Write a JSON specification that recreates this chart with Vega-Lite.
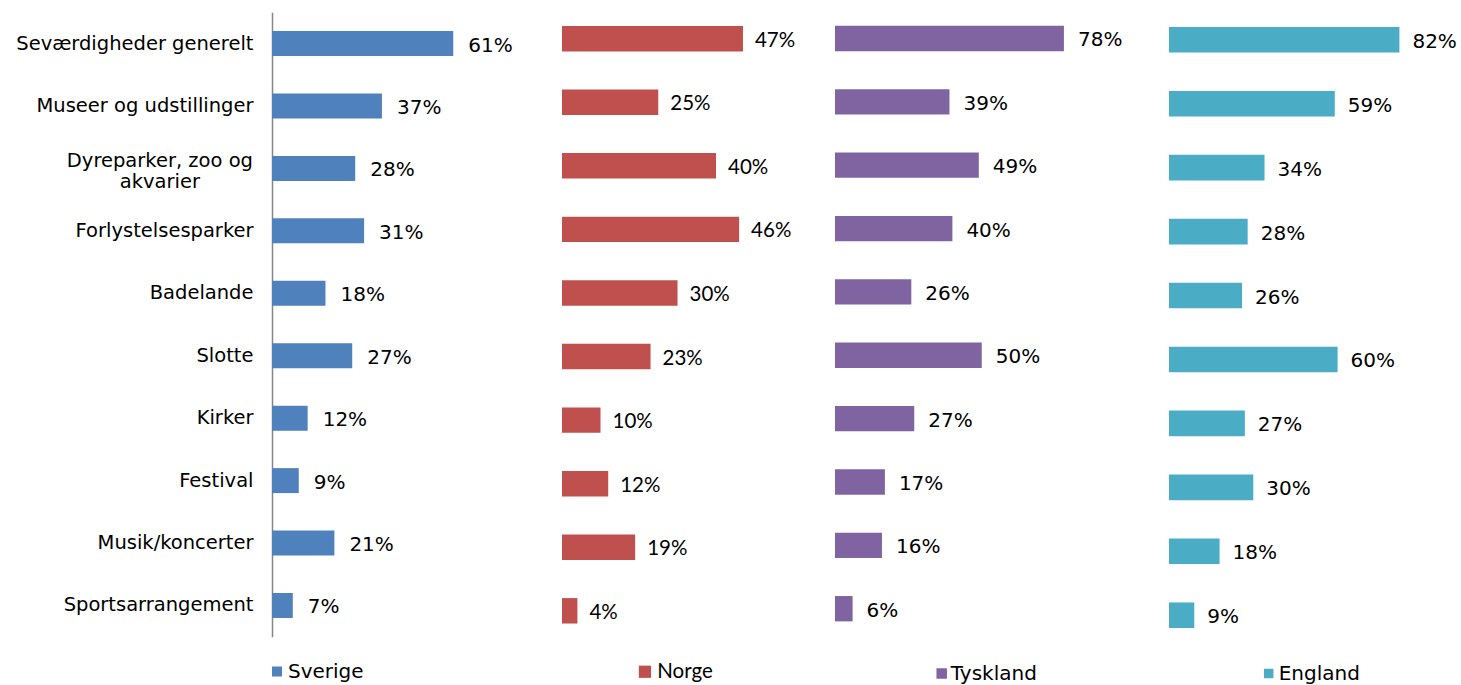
{
  "$schema": "https://vega.github.io/schema/vega-lite/v6.json",
  "padding": {"left": 15, "top": 5, "right": 0, "bottom": 0},
  "autosize": {"type": "pad"},
  "bounds": "flush",
  "spacing": 0,
  "background": "white",
  "config": {"view": {"stroke": null}, "font": "DejaVu Sans"},
  "data": {"values": [
    {"country": "Sverige", "category": "Seværdigheder generelt", "value": 0.61},
    {"country": "Sverige", "category": "Museer og udstillinger", "value": 0.37},
    {"country": "Sverige", "category": "Dyreparker, zoo og akvarier", "value": 0.28},
    {"country": "Sverige", "category": "Forlystelsesparker", "value": 0.31},
    {"country": "Sverige", "category": "Badelande", "value": 0.18},
    {"country": "Sverige", "category": "Slotte", "value": 0.27},
    {"country": "Sverige", "category": "Kirker", "value": 0.12},
    {"country": "Sverige", "category": "Festival", "value": 0.09},
    {"country": "Sverige", "category": "Musik/koncerter", "value": 0.21},
    {"country": "Sverige", "category": "Sportsarrangement", "value": 0.07},
    {"country": "Norge", "category": "Seværdigheder generelt", "value": 0.47},
    {"country": "Norge", "category": "Museer og udstillinger", "value": 0.25},
    {"country": "Norge", "category": "Dyreparker, zoo og akvarier", "value": 0.40},
    {"country": "Norge", "category": "Forlystelsesparker", "value": 0.46},
    {"country": "Norge", "category": "Badelande", "value": 0.30},
    {"country": "Norge", "category": "Slotte", "value": 0.23},
    {"country": "Norge", "category": "Kirker", "value": 0.10},
    {"country": "Norge", "category": "Festival", "value": 0.12},
    {"country": "Norge", "category": "Musik/koncerter", "value": 0.19},
    {"country": "Norge", "category": "Sportsarrangement", "value": 0.04},
    {"country": "Tyskland", "category": "Seværdigheder generelt", "value": 0.78},
    {"country": "Tyskland", "category": "Museer og udstillinger", "value": 0.39},
    {"country": "Tyskland", "category": "Dyreparker, zoo og akvarier", "value": 0.49},
    {"country": "Tyskland", "category": "Forlystelsesparker", "value": 0.40},
    {"country": "Tyskland", "category": "Badelande", "value": 0.26},
    {"country": "Tyskland", "category": "Slotte", "value": 0.50},
    {"country": "Tyskland", "category": "Kirker", "value": 0.27},
    {"country": "Tyskland", "category": "Festival", "value": 0.17},
    {"country": "Tyskland", "category": "Musik/koncerter", "value": 0.16},
    {"country": "Tyskland", "category": "Sportsarrangement", "value": 0.06},
    {"country": "England", "category": "Seværdigheder generelt", "value": 0.82},
    {"country": "England", "category": "Museer og udstillinger", "value": 0.59},
    {"country": "England", "category": "Dyreparker, zoo og akvarier", "value": 0.34},
    {"country": "England", "category": "Forlystelsesparker", "value": 0.28},
    {"country": "England", "category": "Badelande", "value": 0.26},
    {"country": "England", "category": "Slotte", "value": 0.60},
    {"country": "England", "category": "Kirker", "value": 0.27},
    {"country": "England", "category": "Festival", "value": 0.30},
    {"country": "England", "category": "Musik/koncerter", "value": 0.18},
    {"country": "England", "category": "Sportsarrangement", "value": 0.09}
  ]},
  "resolve": {"scale": {"x": "independent", "y": "independent", "color": "independent"}, "legend": {"color": "independent"}, "axis": {"y": "independent"}},
  "hconcat": [
    {
      "width": 290, "height": 645,
      "transform": [{"filter": "datum.country === 'Sverige'"}],
      "encoding": {
        "y": {"field": "category", "type": "nominal",
              "sort": ["Seværdigheder generelt","Museer og udstillinger","Dyreparker, zoo og akvarier","Forlystelsesparker","Badelande","Slotte","Kirker","Festival","Musik/koncerter","Sportsarrangement"],
              "scale": {"range": [7.3, 631.7], "paddingInner": 0.6, "paddingOuter": 0.3},
              "axis": {"title": null, "ticks": false, "domainColor": "#868686", "domainWidth": 1.5,
                       "labelFont": "DejaVu Sans", "labelFontSize": 19.5, "labelColor": "#000000",
                       "labelLimit": 400, "labelLineHeight": 21,
                       "labelAlign": {"condition": {"test": "datum.value == 'Dyreparker, zoo og akvarier'", "value": "center"}, "value": "right"},
                       "labelPadding": {"condition": {"test": "datum.value == 'Dyreparker, zoo og akvarier'", "value": 112.6}, "value": 19},
                       "labelOffset": {"condition": {"test": "datum.value == 'Dyreparker, zoo og akvarier'", "value": -7}, "value": 0},
                       "labelExpr": "datum.value == 'Dyreparker, zoo og akvarier' ? ['Dyreparker, zoo og', 'akvarier'] : datum.value"}},
        "x": {"field": "value", "type": "quantitative", "scale": {"domain": [0, 0.976], "nice": false}, "axis": null}
      },
      "layer": [
        {"mark": {"type": "bar"},
         "encoding": {"color": {"field": "country", "type": "nominal", "scale": {"range": ["#4F81BD"]},
           "legend": {"title": null, "orient": "none", "legendX": -5, "legendY": 656.5, "symbolType": "square", "symbolSize": 100, "symbolStrokeWidth": 0, "labelFont": "DejaVu Sans", "labelFontSize": 20, "labelColor": "#000000", "labelOffset": 1, "padding": 0}}}},
        {"mark": {"type": "text", "align": "left", "baseline": "middle", "dx": 15, "dy": 2, "font": "DejaVu Sans", "fontSize": 20, "color": "#000000"},
         "encoding": {"text": {"field": "value", "type": "quantitative", "format": ".0%"}}}
      ]
    },
    {
      "width": 273, "height": 645,
      "transform": [{"filter": "datum.country === 'Norge'"}],
      "encoding": {
        "y": {"field": "category", "type": "nominal",
              "sort": ["Seværdigheder generelt","Museer og udstillinger","Dyreparker, zoo og akvarier","Forlystelsesparker","Badelande","Slotte","Kirker","Festival","Musik/koncerter","Sportsarrangement"],
              "scale": {"range": [1.9, 637.6], "paddingInner": 0.6, "paddingOuter": 0.3}, "axis": null},
        "x": {"field": "value", "type": "quantitative", "scale": {"domain": [0, 0.709], "nice": false}, "axis": null}
      },
      "layer": [
        {"mark": {"type": "bar"},
         "encoding": {"color": {"field": "country", "type": "nominal", "scale": {"range": ["#C0504D"]},
           "legend": {"title": null, "orient": "none", "legendX": 72.7, "legendY": 656.5, "symbolType": "square", "symbolSize": 150, "symbolStrokeWidth": 0, "labelFont": "Lato", "labelFontSize": 20.5, "labelColor": "#000000", "labelOffset": 2, "padding": 0}}}},
        {"mark": {"type": "text", "align": "left", "baseline": "middle", "dx": 12, "dy": 2, "font": "Lato", "fontSize": 20.5, "color": "#000000"},
         "encoding": {"text": {"field": "value", "type": "quantitative", "format": ".0%"}}}
      ]
    },
    {
      "width": 334, "height": 645,
      "transform": [{"filter": "datum.country === 'Tyskland'"}],
      "encoding": {
        "y": {"field": "category", "type": "nominal",
              "sort": ["Seværdigheder generelt","Museer og udstillinger","Dyreparker, zoo og akvarier","Forlystelsesparker","Badelande","Slotte","Kirker","Festival","Musik/koncerter","Sportsarrangement"],
              "scale": {"range": [1.8, 635.4], "paddingInner": 0.6, "paddingOuter": 0.3}, "axis": null},
        "x": {"field": "value", "type": "quantitative", "scale": {"domain": [0, 1.138], "nice": false}, "axis": null}
      },
      "layer": [
        {"mark": {"type": "bar"},
         "encoding": {"color": {"field": "country", "type": "nominal", "scale": {"range": ["#8064A2"]},
           "legend": {"title": null, "orient": "none", "legendX": 96.7, "legendY": 658.5, "symbolType": "square", "symbolSize": 110, "symbolStrokeWidth": 0, "labelFont": "DejaVu Sans", "labelFontSize": 20, "labelColor": "#000000", "labelOffset": -1, "padding": 0}}}},
        {"mark": {"type": "text", "align": "left", "baseline": "middle", "dx": 14, "dy": 2, "font": "DejaVu Sans", "fontSize": 20, "color": "#000000"},
         "encoding": {"text": {"field": "value", "type": "quantitative", "format": ".0%"}}}
      ]
    },
    {
      "width": 250, "height": 645,
      "transform": [{"filter": "datum.country === 'England'"}],
      "encoding": {
        "y": {"field": "category", "type": "nominal",
              "sort": ["Seværdigheder generelt","Museer og udstillinger","Dyreparker, zoo og akvarier","Forlystelsesparker","Badelande","Slotte","Kirker","Festival","Musik/koncerter","Sportsarrangement"],
              "scale": {"range": [2.8, 642.2], "paddingInner": 0.6, "paddingOuter": 0.3}, "axis": null},
        "x": {"field": "value", "type": "quantitative", "scale": {"domain": [0, 0.8897], "nice": false}, "axis": null}
      },
      "layer": [
        {"mark": {"type": "bar"},
         "encoding": {"color": {"field": "country", "type": "nominal", "scale": {"range": ["#4BACC6"]},
           "legend": {"title": null, "orient": "none", "legendX": 89.7, "legendY": 658.5, "symbolType": "square", "symbolSize": 90, "symbolStrokeWidth": 0, "labelFont": "DejaVu Sans", "labelFontSize": 20, "labelColor": "#000000", "labelOffset": 0, "padding": 0}}}},
        {"mark": {"type": "text", "align": "left", "baseline": "middle", "dx": 13, "dy": 2, "font": "DejaVu Sans", "fontSize": 20, "color": "#000000"},
         "encoding": {"text": {"field": "value", "type": "quantitative", "format": ".0%"}}}
      ]
    }
  ]
}
